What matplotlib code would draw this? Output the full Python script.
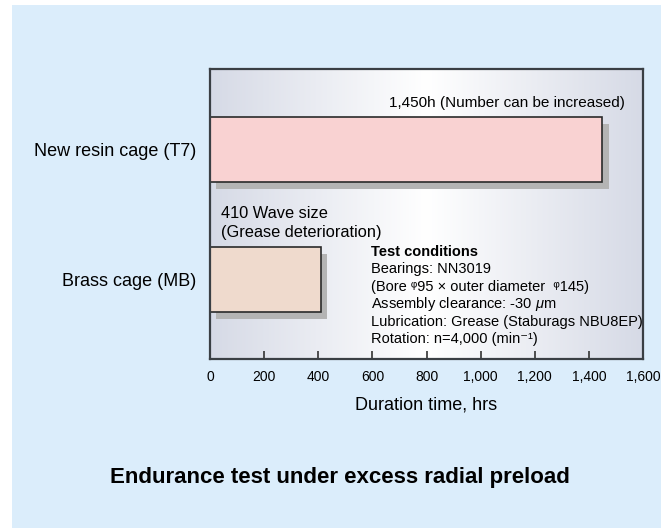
import matplotlib.pyplot as plt
import matplotlib.patheffects as pe
import numpy as np
from matplotlib.patches import Rectangle
from matplotlib.colors import LinearSegmentedColormap

plt.rcParams['font.family'] = ['Liberation Sans', 'DejaVu Sans']
plt.rcParams['mathtext.fontset'] = 'custom'
plt.rcParams['mathtext.rm'] = 'Liberation Sans'
plt.rcParams['mathtext.it'] = 'Liberation Sans:italic'

# data
cages = ['Brass cage (MB)', 'New resin cage (T7)']
hours = [410, 1450]
bar_colors = ['#efdacd', '#f9d2d2']
xticks = [0, 200, 400, 600, 800, 1000, 1200, 1400, 1600]
xtick_labels = ['0', '200', '400', '600', '800', '1,000', '1,200', '1,400', '1,600']
conditions = ['Bearings: NN3019',
              '(Bore \u1D6095 \u00D7 outer diameter  \u1D60145)',
              r'Assembly clearance: -30 $\mu$m',
              'Lubrication: Grease (Staburags NBU8EP)',
              'Rotation: n=4,000 (min\u207B\u00B9)']

W, H = 661, 528
fig = plt.figure(figsize=(W / 100, H / 100), dpi=100)
fig.patch.set_facecolor('white')
fig.patches.append(Rectangle((12 / W, 0), 1, 1 - 5 / H, transform=fig.transFigure,
                             facecolor='#dbedfb', edgecolor='none', zorder=-5))

ax = fig.add_axes([210 / W, 1 - 359 / H, (643 - 210) / W, (359 - 69) / H])

# gradient background
cmap = LinearSegmentedColormap.from_list('bg', ['#d6dae6', '#ffffff', '#d6dae6'])
grad = np.linspace(0, 1, 256).reshape(1, -1)
ax.imshow(grad, cmap=cmap, extent=[0, 1, 0, 1], transform=ax.transAxes,
          aspect='auto', zorder=0)

ypos = np.arange(len(cages))
ax.barh(ypos, hours, height=0.5, color=bar_colors, edgecolor='#2a2a2a', linewidth=1.2,
        zorder=2,
        path_effects=[pe.SimplePatchShadow(offset=(4.5, -4.5), shadow_rgbFace='#b4b4b4', alpha=1),
                      pe.Normal()])

ax.set_xlim(0, 1600)
ax.set_ylim(-0.608, 1.623)
ax.set_xticks(xticks)
ax.set_xticklabels(xtick_labels, fontsize=10)
ax.tick_params(axis='x', direction='in', length=6, width=1.2, color='#333333', pad=8)
ax.set_yticks(ypos)
ax.set_yticklabels(cages, fontsize=13)
ax.tick_params(axis='y', length=0, pad=10)
for s in ax.spines.values():
    s.set_color('#3a3f44')
    s.set_linewidth(1.6)
ax.set_xlabel('Duration time, hrs', fontsize=13, labelpad=9)

fig.text(625 / W, 1 - 103 / H, '1,450h (Number can be increased)', fontsize=11,
         ha='right', va='center')
fig.text(221 / W, 1 - 214 / H, '410 Wave size', fontsize=11.8, ha='left', va='center')
fig.text(221 / W, 1 - 232 / H, '(Grease deterioration)', fontsize=11.8, ha='left', va='center')
fig.text(371 / W, 1 - 252 / H, 'Test conditions', fontsize=10.5, fontweight='bold',
         ha='left', va='center')
for i, line in enumerate(conditions):
    fig.text(371 / W, 1 - (269 + 17.6 * i) / H, line, fontsize=10.5, ha='left', va='center')

fig.text(340 / W, 1 - 477 / H, 'Endurance test under excess radial preload', fontsize=16,
         fontweight='bold', ha='center', va='center')

fig.savefig('out.png', dpi=100)
